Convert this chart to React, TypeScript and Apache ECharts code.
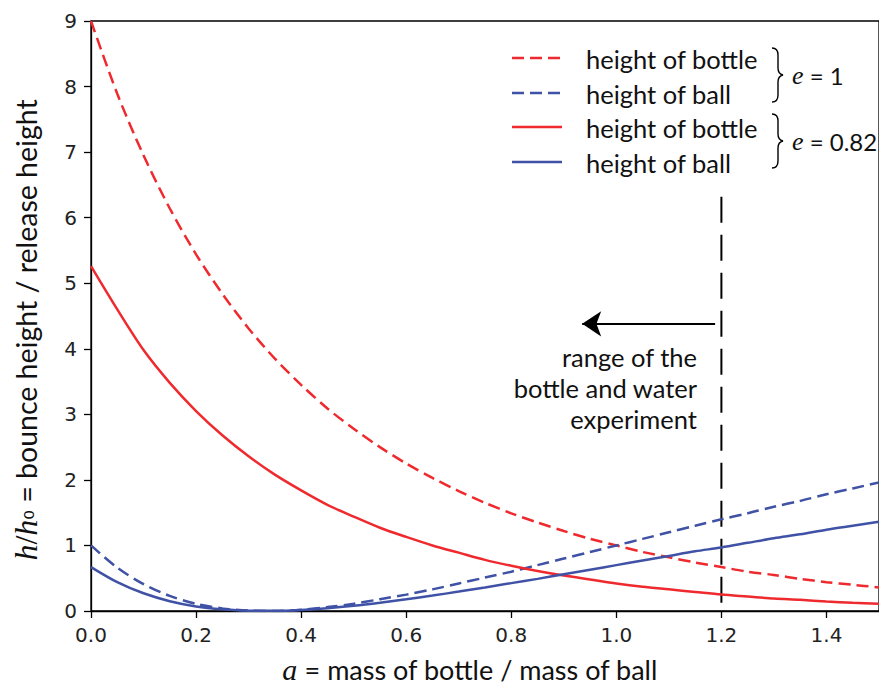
import React, { useEffect, useRef } from "react";
import * as echarts from "echarts";

const xs = [0, 0.05, 0.1, 0.15, 0.2, 0.25, 0.3, 0.35, 0.4, 0.45, 0.5, 0.55, 0.6, 0.65, 0.7, 0.75, 0.8, 0.85, 0.9, 0.95, 1.0, 1.05, 1.1, 1.15, 1.2, 1.25, 1.3, 1.35, 1.4, 1.45, 1.5];
const bottleE1 = [9.0, 7.89, 6.95, 6.14, 5.44, 4.84, 4.31, 3.85, 3.45, 3.09, 2.78, 2.5, 2.25, 2.03, 1.83, 1.65, 1.49, 1.35, 1.22, 1.1, 1.0, 0.9, 0.82, 0.74, 0.67, 0.6, 0.55, 0.49, 0.44, 0.4, 0.36];
const ballE1 = [1.0, 0.66, 0.41, 0.23, 0.11, 0.04, 0.006, 0.001, 0.02, 0.06, 0.11, 0.18, 0.25, 0.33, 0.42, 0.51, 0.6, 0.7, 0.8, 0.9, 1.0, 1.1, 1.2, 1.3, 1.4, 1.49, 1.59, 1.68, 1.78, 1.87, 1.96];
const bottleE082 = [5.26, 4.6, 3.98, 3.48, 3.05, 2.68, 2.36, 2.08, 1.84, 1.62, 1.44, 1.27, 1.13, 1.0, 0.89, 0.78, 0.69, 0.61, 0.54, 0.48, 0.42, 0.37, 0.33, 0.29, 0.25, 0.22, 0.19, 0.17, 0.145, 0.125, 0.11];
const ballE082 = [0.67, 0.44, 0.27, 0.15, 0.07, 0.025, 0.003, 0.002, 0.016, 0.043, 0.08, 0.126, 0.178, 0.235, 0.296, 0.36, 0.425, 0.49, 0.56, 0.63, 0.7, 0.77, 0.84, 0.91, 0.97, 1.04, 1.11, 1.17, 1.24, 1.3, 1.36];

const legendLabels = ["height of bottle", "height of ball", "height of bottle", "height of ball"];
const groupLabels = ["= 1", "= 0.82"];
const rangeLabel = ["range of the", "bottle and water", "experiment"];
const rangeX = 1.2;
const rangeTop = 6.32;
const arrowY = 4.38;
const arrowFrom = 1.188;
const arrowTo = 0.935;

const RED = "#ef2a2f";
const BLUE = "#3f52a6";
const SANS = "Lato";
const SERIF = "Liberation Serif";

echarts.graphic.registerShape(
  "brace",
  echarts.graphic.extendPath("M0,0 Q6,0 6,7 L6,20 Q6,26 11,27 Q6,28 6,34 L6,47 Q6,54 0,54", {})
);

export default function App() {
  const ref = useRef<HTMLDivElement>(null);
  useEffect(() => {
    const chart = echarts.init(ref.current!, undefined, { renderer: "svg" });
    const pts = (arr: number[]) => xs.map((x, i) => [x, arr[i]]);
    const rows = [58, 93, 127, 162];
    const styles = [
      { c: RED, d: [12, 6] },
      { c: BLUE, d: [12, 6] },
      { c: RED, d: null },
      { c: BLUE, d: null },
    ];
    const graphics: any[] = [];
    rows.forEach((y, i) => {
      graphics.push({
        type: "line",
        shape: { x1: 512, y1: y, x2: 562, y2: y },
        style: { stroke: styles[i].c, lineWidth: 2.5, lineDash: styles[i].d || undefined },
      });
      graphics.push({
        type: "text",
        x: 586,
        y: y + 1,
        style: { text: legendLabels[i], fontFamily: SANS, fontSize: 25.5, fill: "#111", verticalAlign: "middle", align: "left" },
      });
    });
    graphics.push({ type: "brace", x: 772, y: 48, style: { stroke: "#000", fill: null, lineWidth: 1.4 } });
    graphics.push({ type: "brace", x: 772, y: 114, style: { stroke: "#000", fill: null, lineWidth: 1.4 } });
    [75, 141].forEach((y, i) => {
      graphics.push({
        type: "text",
        x: 792,
        y,
        style: {
          text: "{i|e} " + groupLabels[i],
          rich: { i: { fontFamily: SERIF, fontStyle: "italic", fontSize: 26 } },
          fontFamily: SANS,
          fontSize: 24,
          fill: "#111",
          verticalAlign: "middle",
          align: "left",
        },
      });
    });
    rangeLabel.forEach((t, i) => {
      graphics.push({
        type: "text",
        x: 697,
        y: 357 + i * 31,
        style: { text: t, fontFamily: SANS, fontSize: 25.5, fill: "#111", verticalAlign: "middle", align: "right" },
      });
    });
    graphics.push({
      type: "text",
      x: 470,
      y: 669,
      style: {
        text: "{i|a} = mass of bottle / mass of ball",
        rich: { i: { fontFamily: SERIF, fontStyle: "italic", fontSize: 30 } },
        fontFamily: SANS,
        fontSize: 27,
        fill: "#111",
        verticalAlign: "middle",
        align: "center",
      },
    });
    graphics.push({
      type: "text",
      x: 26,
      y: 330,
      rotation: Math.PI / 2,
      style: {
        text: "{i|h}{n|/}{i|h}{s|₀} = bounce height / release height",
        rich: {
          i: { fontFamily: SERIF, fontStyle: "italic", fontSize: 32 },
          n: { fontFamily: SERIF, fontSize: 32 },
          s: { fontFamily: "DejaVu Sans", fontSize: 24 },
        },
        fontFamily: SANS,
        fontSize: 28.5,
        fill: "#111",
        verticalAlign: "middle",
        align: "center",
      },
    });

    const curve = (name: string, data: number[], color: string, dashed: boolean) => ({
      name,
      type: "line",
      data: pts(data),
      showSymbol: false,
      symbol: "none",
      smooth: 0.3,
      lineStyle: { color, width: 2.5, type: dashed ? [12, 6] : "solid" },
      z: 3,
    });

    chart.setOption({
      animation: false,
      grid: { left: 91, top: 21, right: -2, bottom: 76, show: true, borderColor: "#000", borderWidth: 1.3, backgroundColor: "transparent" },
      xAxis: {
        type: "value",
        min: 0,
        max: 1.5,
        interval: 0.2,
        axisLine: { lineStyle: { color: "#000", width: 1.3 } },
        axisTick: { show: true, inside: false, length: 7, lineStyle: { color: "#000", width: 1.3 } },
        axisLabel: { showMaxLabel: false, margin: 14, color: "#222", fontFamily: "DejaVu Sans", fontSize: 20, formatter: (v: number) => v.toFixed(1) },
        splitLine: { show: false },
      },
      yAxis: {
        type: "value",
        min: 0,
        max: 9,
        interval: 1,
        axisLine: { show: true, lineStyle: { color: "#000", width: 1.3 } },
        axisTick: { show: true, inside: false, length: 7, lineStyle: { color: "#000", width: 1.3 } },
        axisLabel: { margin: 14, color: "#222", fontFamily: "DejaVu Sans", fontSize: 20 },
        splitLine: { show: false },
      },
      series: [
        curve("height of bottle (e=1)", bottleE1, RED, true),
        curve("height of ball (e=1)", ballE1, BLUE, true),
        curve("height of bottle (e=0.82)", bottleE082, RED, false),
        curve("height of ball (e=0.82)", ballE082, BLUE, false),
        {
          name: "range",
          type: "line",
          data: [
            [rangeX, rangeTop],
            [rangeX, 0],
          ],
          symbol: "none",
          lineStyle: { color: "#000", width: 2, type: [26, 12] },
          z: 2,
          markLine: {
            silent: true,
            symbol: ["none", "arrow"],
            symbolSize: 19,
            label: { show: false },
            lineStyle: { color: "#000", width: 2, type: "solid" },
            itemStyle: { color: "#000" },
            data: [[{ coord: [arrowFrom, arrowY] }, { coord: [arrowTo, arrowY] }]],
          },
        },
      ],
      graphic: graphics,
    });
    return () => chart.dispose();
  }, []);
  return <div ref={ref} style={{ position: "absolute", left: 0, top: 0, width: 879, height: 687 }} />;
}
